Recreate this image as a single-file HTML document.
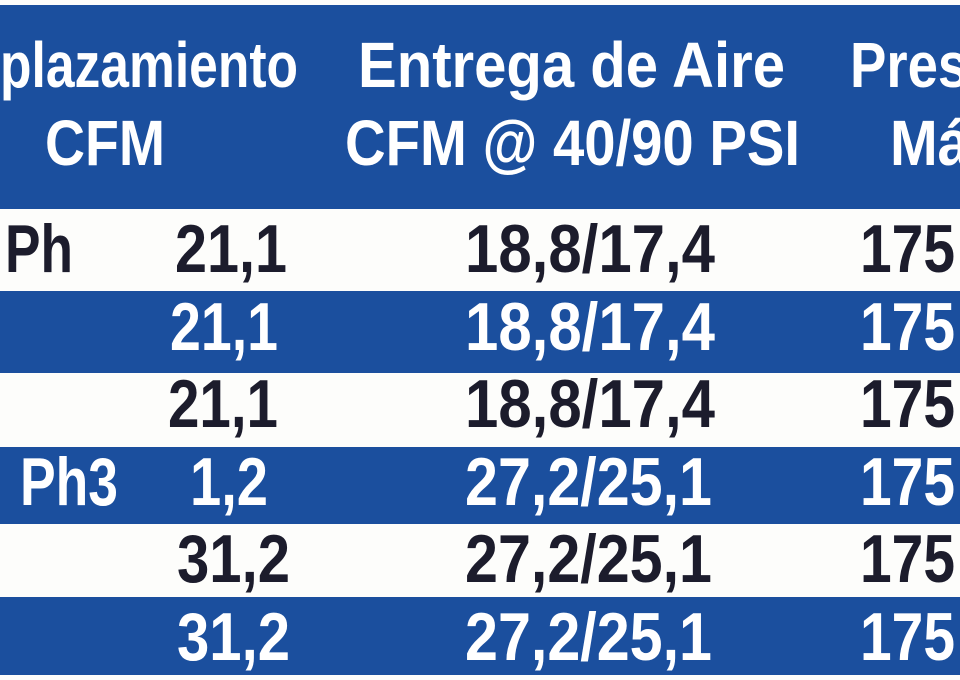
<!DOCTYPE html>
<html><head><meta charset="utf-8"><style>
html,body{margin:0;padding:0;background:#fff;width:960px;height:680px;overflow:hidden}
svg{display:block}
text{font-family:"Liberation Sans",sans-serif;font-weight:bold}
.w{fill:#fff}.d{fill:#1c1c2c}
</style></head><body>
<svg width="960" height="680" viewBox="0 0 960 680" xmlns="http://www.w3.org/2000/svg">
<rect x="0" y="0" width="960" height="680" fill="#fdfdfb"/>
<rect x="0" y="5" width="960" height="204" fill="#1b4f9e"/>
<rect x="0" y="291" width="960" height="82" fill="#1b4f9e"/>
<rect x="0" y="447" width="960" height="77" fill="#1b4f9e"/>
<rect x="0" y="597" width="960" height="78" fill="#1b4f9e"/>
<g font-size="64" class="w">
<text class="w" x="0" y="87" textLength="298" lengthAdjust="spacingAndGlyphs">plazamiento</text>
<text class="w" x="358" y="87" textLength="427" lengthAdjust="spacingAndGlyphs">Entrega de Aire</text>
<text class="w" x="850" y="87" textLength="200" lengthAdjust="spacingAndGlyphs">Presión</text>
<text class="w" x="45" y="165" textLength="120" lengthAdjust="spacingAndGlyphs">CFM</text>
<text class="w" x="345" y="165" textLength="455" lengthAdjust="spacingAndGlyphs">CFM @ 40/90 PSI</text>
<text class="w" x="890" y="165" textLength="210" lengthAdjust="spacingAndGlyphs">Máxima</text>
</g>
<g font-size="68">
<text class="d" x="5" y="272" textLength="68" lengthAdjust="spacingAndGlyphs">Ph</text>
<text class="d" x="175" y="272" textLength="112" lengthAdjust="spacingAndGlyphs">21,1</text>
<text class="d" x="465" y="272" textLength="250" lengthAdjust="spacingAndGlyphs">18,8/17,4</text>
<text class="d" x="860" y="272" textLength="95" lengthAdjust="spacingAndGlyphs">175</text>

<text class="w" x="170" y="350" textLength="108" lengthAdjust="spacingAndGlyphs">21,1</text>
<text class="w" x="465" y="350" textLength="250" lengthAdjust="spacingAndGlyphs">18,8/17,4</text>
<text class="w" x="860" y="350" textLength="95" lengthAdjust="spacingAndGlyphs">175</text>

<text class="d" x="168" y="427" textLength="110" lengthAdjust="spacingAndGlyphs">21,1</text>
<text class="d" x="465" y="427" textLength="250" lengthAdjust="spacingAndGlyphs">18,8/17,4</text>
<text class="d" x="860" y="427" textLength="95" lengthAdjust="spacingAndGlyphs">175</text>

<text class="w" x="20" y="505" textLength="98" lengthAdjust="spacingAndGlyphs">Ph3</text>
<text class="w" x="190" y="505" textLength="78" lengthAdjust="spacingAndGlyphs">1,2</text>
<text class="w" x="465" y="505" textLength="247" lengthAdjust="spacingAndGlyphs">27,2/25,1</text>
<text class="w" x="860" y="505" textLength="95" lengthAdjust="spacingAndGlyphs">175</text>

<text class="d" x="177" y="582" textLength="113" lengthAdjust="spacingAndGlyphs">31,2</text>
<text class="d" x="465" y="582" textLength="247" lengthAdjust="spacingAndGlyphs">27,2/25,1</text>
<text class="d" x="860" y="582" textLength="95" lengthAdjust="spacingAndGlyphs">175</text>

<text class="w" x="177" y="660" textLength="113" lengthAdjust="spacingAndGlyphs">31,2</text>
<text class="w" x="465" y="660" textLength="247" lengthAdjust="spacingAndGlyphs">27,2/25,1</text>
<text class="w" x="860" y="660" textLength="95" lengthAdjust="spacingAndGlyphs">175</text>
</g>
</svg>
</body></html>
